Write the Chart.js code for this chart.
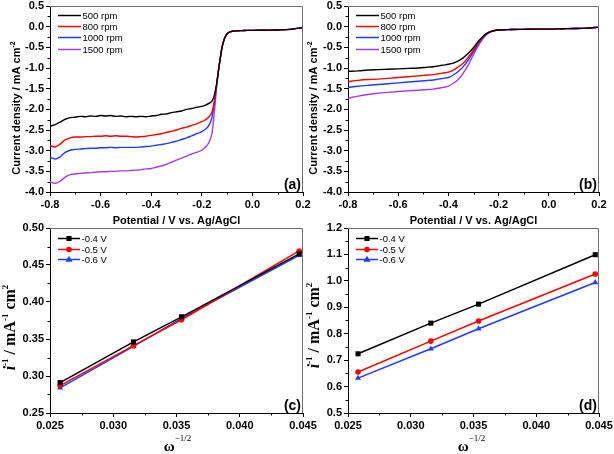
<!DOCTYPE html>
<html>
<head>
<meta charset="utf-8">
<script src="https://cdn.jsdelivr.net/npm/chart.js@4/dist/chart.umd.min.js"></script>
<style>
    html, body { margin: 0; padding: 0; background: #fff; }
    #wrap { position: relative; width: 614px; height: 454px; overflow: hidden; }
    canvas { position: absolute; }
</style>
</head>
<body>
<div id="wrap">
    <canvas id="panelA" width="320" height="228" style="left:0;top:0;width:320px;height:228px"></canvas>
    <canvas id="panelB" width="314" height="228" style="left:300px;top:0;width:314px;height:228px"></canvas>
    <canvas id="panelC" width="320" height="240" style="left:0;top:214px;width:320px;height:240px"></canvas>
    <canvas id="panelD" width="314" height="240" style="left:300px;top:214px;width:314px;height:240px"></canvas>
</div>
<script>
// ---- data ----

// (a) LSV curves
const potentialA = [-0.80, -0.78, -0.76, -0.74, -0.72, -0.70, -0.68, -0.66, -0.64, -0.62,
    -0.60, -0.58, -0.56, -0.54, -0.52, -0.50, -0.48, -0.46, -0.44, -0.42,
    -0.40, -0.38, -0.36, -0.34, -0.32, -0.30, -0.28, -0.26, -0.24, -0.22,
    -0.20, -0.19, -0.18, -0.17, -0.16, -0.155, -0.15, -0.145, -0.14, -0.135,
    -0.13, -0.125, -0.12, -0.11, -0.10, -0.09, -0.08, -0.06, -0.04, -0.02,
    0.00, 0.05, 0.10, 0.15, 0.20];
const j500a = [-2.41, -2.37, -2.31, -2.24, -2.20, -2.19, -2.17, -2.18, -2.16, -2.17,
    -2.15, -2.16, -2.15, -2.17, -2.16, -2.18, -2.17, -2.18, -2.17, -2.18,
    -2.16, -2.15, -2.12, -2.11, -2.08, -2.06, -2.04, -2.00, -1.98, -1.95,
    -1.93, -1.91, -1.88, -1.85, -1.80, -1.74, -1.65, -1.50, -1.34, -1.10,
    -0.88, -0.68, -0.50, -0.28, -0.17, -0.13, -0.11, -0.10, -0.095, -0.09,
    -0.09, -0.085, -0.08, -0.065, -0.02];
const j800a = [-2.88, -2.91, -2.84, -2.74, -2.69, -2.67, -2.67, -2.66, -2.66, -2.65,
    -2.65, -2.64, -2.65, -2.64, -2.65, -2.65, -2.66, -2.67, -2.66, -2.65,
    -2.63, -2.61, -2.59, -2.56, -2.53, -2.50, -2.46, -2.43, -2.39, -2.35,
    -2.30, -2.27, -2.23, -2.17, -2.07, -1.95, -1.78, -1.57, -1.34, -1.10,
    -0.88, -0.68, -0.50, -0.28, -0.17, -0.13, -0.11, -0.10, -0.095, -0.09,
    -0.09, -0.085, -0.08, -0.065, -0.02];
const j1000a = [-3.16, -3.20, -3.15, -3.04, -2.99, -2.97, -2.96, -2.95, -2.94, -2.94,
    -2.93, -2.93, -2.92, -2.93, -2.92, -2.92, -2.92, -2.92, -2.91, -2.90,
    -2.89, -2.87, -2.85, -2.83, -2.80, -2.77, -2.73, -2.69, -2.64, -2.59,
    -2.54, -2.50, -2.45, -2.37, -2.20, -2.03, -1.83, -1.60, -1.34, -1.10,
    -0.88, -0.68, -0.50, -0.28, -0.17, -0.13, -0.11, -0.10, -0.095, -0.09,
    -0.09, -0.085, -0.08, -0.065, -0.02];
const j1500a = [-3.75, -3.79, -3.74, -3.64, -3.58, -3.56, -3.55, -3.54, -3.53, -3.52,
    -3.51, -3.51, -3.50, -3.50, -3.49, -3.49, -3.48, -3.47, -3.46, -3.44,
    -3.43, -3.40, -3.37, -3.33, -3.28, -3.23, -3.18, -3.13, -3.08, -3.04,
    -2.99, -2.94, -2.88, -2.78, -2.58, -2.35, -2.05, -1.70, -1.34, -1.10,
    -0.88, -0.68, -0.50, -0.28, -0.17, -0.13, -0.11, -0.10, -0.095, -0.09,
    -0.09, -0.085, -0.08, -0.065, -0.02];

// (b) LSV curves
const potentialB = [-0.80, -0.76, -0.72, -0.68, -0.64, -0.60, -0.56, -0.52, -0.48, -0.46,
    -0.44, -0.42, -0.40, -0.38, -0.36, -0.34, -0.32, -0.30, -0.28, -0.26,
    -0.24, -0.22, -0.20, -0.15, -0.10, -0.05, 0.00, 0.05, 0.10, 0.15, 0.20];
const j500b = [-1.08, -1.07, -1.05, -1.04, -1.03, -1.02, -1.01, -1.00, -0.98, -0.97,
    -0.95, -0.93, -0.91, -0.88, -0.83, -0.75, -0.64, -0.51, -0.35, -0.22,
    -0.14, -0.10, -0.08, -0.07, -0.065, -0.06, -0.06, -0.05, -0.045, -0.035, -0.01];
const j800b = [-1.33, -1.30, -1.28, -1.27, -1.25, -1.23, -1.21, -1.19, -1.17, -1.16,
    -1.14, -1.12, -1.10, -1.05, -0.97, -0.88, -0.73, -0.57, -0.38, -0.23,
    -0.14, -0.10, -0.08, -0.07, -0.065, -0.06, -0.06, -0.05, -0.045, -0.035, -0.01];
const j1000b = [-1.47, -1.44, -1.42, -1.40, -1.38, -1.36, -1.34, -1.32, -1.30, -1.29,
    -1.27, -1.25, -1.23, -1.17, -1.08, -0.96, -0.80, -0.61, -0.41, -0.25,
    -0.15, -0.10, -0.08, -0.07, -0.065, -0.06, -0.06, -0.05, -0.045, -0.035, -0.01];
const j1500b = [-1.73, -1.68, -1.64, -1.61, -1.59, -1.57, -1.55, -1.54, -1.52, -1.51,
    -1.49, -1.47, -1.44, -1.37, -1.27, -1.12, -0.92, -0.67, -0.45, -0.27,
    -0.15, -0.10, -0.08, -0.07, -0.065, -0.06, -0.06, -0.05, -0.045, -0.035, -0.01];

// (c), (d) Koutecky-Levich
const omegaInv = [0.0258, 0.0316, 0.0354, 0.0447];
const klC04 = [0.291, 0.346, 0.380, 0.465];
const klC05 = [0.287, 0.341, 0.376, 0.469];
const klC06 = [0.284, 0.340, 0.378, 0.463];
const klD04 = [0.724, 0.840, 0.912, 1.099];
const klD05 = [0.655, 0.772, 0.848, 1.026];
const klD06 = [0.632, 0.743, 0.819, 0.994];

const rpmLabels = ['500 rpm', '800 rpm', '1000 rpm', '1500 rpm'];
const voltLabels = ['-0.4 V', '-0.5 V', '-0.6 V'];

const potentialTicks = [-0.8, -0.6, -0.4, -0.2, 0.0, 0.2];
const currentTicks = [0.5, 0.0, -0.5, -1.0, -1.5, -2.0, -2.5, -3.0, -3.5, -4.0];
const omegaTicks = [0.025, 0.030, 0.035, 0.040, 0.045];
const invTicksC = [0.25, 0.30, 0.35, 0.40, 0.45, 0.50];
const invTicksD = [0.5, 0.6, 0.7, 0.8, 0.9, 1.0, 1.1, 1.2];

// ---- styling ----
const SANS = "'Liberation Sans', Arial, sans-serif";
const SERIF = "'Liberation Serif', 'Times New Roman', serif";
const rpmColors = ['#000000', '#ff0000', '#1f3cff', '#a63cf2'];
const voltColors = ['#000000', '#ff0000', '#1f3cff'];
const voltMarkers = ['rect', 'circle', 'triangle'];
const markerSize = { rect: 3.6, circle: 2.8, triangle: 3.4 };

function fmt(v, d) {
    if (Math.abs(v) < 1e-9) v = 0;
    return v.toFixed(d);
}

function drawRich(ctx, parts, x, y, rotate) {
    ctx.save();
    ctx.translate(x, y);
    if (rotate) ctx.rotate(-Math.PI / 2);
    ctx.textAlign = 'left';
    ctx.textBaseline = 'alphabetic';
    ctx.fillStyle = '#000';
    let total = 0;
    const widths = parts.map(p => {
        ctx.font = p.font;
        const w = ctx.measureText(p.text).width;
        total += w;
        return w;
    });
    let cx = -total / 2;
    parts.forEach((p, i) => {
        ctx.font = p.font;
        ctx.fillText(p.text, cx, -(p.rise || 0));
        cx += widths[i];
    });
    ctx.restore();
}

function drawMarker(ctx, style, x, y, r, color) {
    ctx.fillStyle = color;
    ctx.beginPath();
    if (style === 'rect') {
        const s = r * Math.SQRT1_2;
        ctx.rect(x - s, y - s, 2 * s, 2 * s);
    } else if (style === 'circle') {
        ctx.arc(x, y, r, 0, Math.PI * 2);
    } else {
        const s = r * 1.1;
        ctx.moveTo(x, y - s);
        ctx.lineTo(x + s * 0.95, y + s * 0.6);
        ctx.lineTo(x - s * 0.95, y + s * 0.6);
        ctx.closePath();
    }
    ctx.fill();
}

// frame, minor ticks, axis titles, legend and panel tag
const decor = {
    id: 'decor',
    afterDraw(chart, args, o) {
        const { ctx, chartArea: a, scales } = chart;
        ctx.save();

        // top and right border
        ctx.strokeStyle = '#6f6f6f';
        ctx.lineWidth = 1;
        ctx.beginPath();
        ctx.moveTo(a.left, a.top + 0.5);
        ctx.lineTo(a.right - 0.5, a.top + 0.5);
        ctx.lineTo(a.right - 0.5, a.bottom);
        ctx.stroke();

        // minor ticks halfway between majors
        ctx.strokeStyle = '#000';
        ctx.beginPath();
        const xt = scales.x.ticks;
        for (let i = 0; i < xt.length - 1; i++) {
            const px = Math.round(scales.x.getPixelForValue((xt[i].value + xt[i + 1].value) / 2)) + 0.5;
            ctx.moveTo(px, a.bottom);
            ctx.lineTo(px, a.bottom + 2.5);
        }
        const yt = scales.y.ticks;
        for (let i = 0; i < yt.length - 1; i++) {
            const py = Math.round(scales.y.getPixelForValue((yt[i].value + yt[i + 1].value) / 2)) + 0.5;
            ctx.moveTo(a.left, py);
            ctx.lineTo(a.left - 2.5, py);
        }
        ctx.stroke();

        // axis titles
        const mx = (a.left + a.right) / 2;
        const my = (a.top + a.bottom) / 2;
        drawRich(ctx, o.xTitle, mx + o.xTitlePos[0], a.bottom + o.xTitlePos[1], false);
        drawRich(ctx, o.yTitle, a.left + o.yTitlePos[0], my + o.yTitlePos[1], true);

        // legend
        const L = o.legend;
        chart.data.datasets.forEach((ds, i) => {
            const y = Math.round(a.top + L.y + i * L.dy) + 0.5;
            ctx.strokeStyle = ds.borderColor;
            ctx.lineWidth = 1.5;
            ctx.beginPath();
            ctx.moveTo(a.left + L.x0, y);
            ctx.lineTo(a.left + L.x1, y);
            ctx.stroke();
            if (ds.pointRadius > 0) {
                drawMarker(ctx, ds.pointStyle, a.left + (L.x0 + L.x1) / 2, y, ds.pointRadius, ds.borderColor);
            }
            ctx.fillStyle = '#000';
            ctx.font = L.font;
            ctx.textAlign = 'left';
            ctx.textBaseline = 'middle';
            ctx.fillText(ds.label, a.left + L.x1 + 1.5, y + 0.5);
        });

        // panel tag
        ctx.font = 'bold 14px ' + SANS;
        ctx.textAlign = 'right';
        ctx.textBaseline = 'alphabetic';
        ctx.fillStyle = '#000';
        ctx.fillText(o.tag, a.right - 2, a.bottom - 3);
        ctx.restore();
    }
};

function makeAxis(min, max, ticks, digits, size, isX) {
    return {
        type: 'linear',
        min: min,
        max: max,
        afterBuildTicks: s => { s.ticks = ticks.map(v => ({ value: v })); },
        afterFit: s => {
            if (isX) s.height = size; else s.width = size;
            s.paddingLeft = s.paddingRight = s.paddingTop = s.paddingBottom = 0;
        },
        grid: { drawOnChartArea: false, drawTicks: true, tickLength: 4, tickColor: '#000', tickWidth: 1 },
        border: { display: true, color: '#000', width: 1 },
        ticks: {
            autoSkip: false,
            maxRotation: 0,
            padding: 2,
            color: '#000',
            font: { family: SANS, size: 11, weight: 'bold' },
            callback: v => fmt(v, digits)
        }
    };
}

function buildPanel(id, p) {
    return new Chart(document.getElementById(id), {
        type: 'line',
        data: { datasets: p.datasets },
        options: {
            responsive: false,
            animation: false,
            events: [],
            layout: { padding: p.pad },
            plugins: {
                legend: { display: false },
                tooltip: { enabled: false },
                decor: p.decor
            },
            scales: {
                x: makeAxis(p.x[0], p.x[1], p.x[2], p.x[3], p.xSize, true),
                y: makeAxis(p.y[0], p.y[1], p.y[2], p.y[3], p.ySize, false)
            }
        },
        plugins: [decor]
    });
}

function lsvSets(xs, series) {
    return series.map((ys, k) => ({
        label: rpmLabels[k],
        data: xs.map((v, i) => ({ x: v, y: ys[i] })),
        borderColor: rpmColors[k],
        backgroundColor: rpmColors[k],
        borderWidth: 1.4,
        pointRadius: 0,
        cubicInterpolationMode: 'monotone'
    }));
}

function klSets(series) {
    return series.map((ys, k) => ({
        label: voltLabels[k],
        data: omegaInv.map((v, i) => ({ x: v, y: ys[i] })),
        borderColor: voltColors[k],
        backgroundColor: voltColors[k],
        borderWidth: 1.5,
        pointStyle: voltMarkers[k],
        pointRadius: markerSize[voltMarkers[k]],
        pointBorderWidth: 0,
        tension: 0
    }));
}

const potentialTitle = [{ text: 'Potential / V vs. Ag/AgCl', font: 'bold 11px ' + SANS }];
const currentTitle = [
    { text: 'Current density / mA cm', font: 'bold 11px ' + SANS },
    { text: '-2', font: 'bold 7px ' + SANS, rise: 5 }
];
const omegaTitle = [
    { text: 'ω', font: 'bold 15px ' + SERIF },
    { text: '−1/2', font: '9px ' + SERIF, rise: 10 }
];
const invTitle = [
    { text: 'i', font: 'italic bold 16px ' + SERIF },
    { text: '-1', font: 'bold 9px ' + SERIF, rise: 7 },
    { text: ' / mA', font: 'bold 16px ' + SERIF },
    { text: '-1', font: 'bold 9px ' + SERIF, rise: 7 },
    { text: ' cm', font: 'bold 16px ' + SERIF },
    { text: '2', font: 'bold 9px ' + SERIF, rise: 7 }
];

const lsvLegend = { x0: 8, x1: 31, y: 9, dy: 11.2, font: '9.5px ' + SANS };
const klLegend = { x0: 8, x1: 30, y: 10, dy: 10.5, font: '9.5px ' + SANS };

buildPanel('panelA', {
    datasets: lsvSets(potentialA, [j500a, j800a, j1000a, j1500a]),
    pad: { left: 0, top: 6, right: 17, bottom: 0 },
    x: [-0.8, 0.2, potentialTicks, 1], xSize: 36,
    y: [-4.0, 0.5, currentTicks, 1], ySize: 50,
    decor: {
        xTitle: potentialTitle, xTitlePos: [0, 32],
        yTitle: currentTitle, yTitlePos: [-30, 9],
        legend: lsvLegend, tag: '(a)'
    }
});

buildPanel('panelB', {
    datasets: lsvSets(potentialB, [j500b, j800b, j1000b, j1500b]),
    pad: { left: 0, top: 6, right: 15, bottom: 0 },
    x: [-0.8, 0.2, potentialTicks, 1], xSize: 36,
    y: [-4.0, 0.5, currentTicks, 1], ySize: 48,
    decor: {
        xTitle: potentialTitle, xTitlePos: [0, 32],
        yTitle: currentTitle, yTitlePos: [-31, 9],
        legend: lsvLegend, tag: '(b)'
    }
});

buildPanel('panelC', {
    datasets: klSets([klC04, klC05, klC06]),
    pad: { left: 0, top: 14, right: 17, bottom: 0 },
    x: [0.025, 0.045, omegaTicks, 3], xSize: 41,
    y: [0.25, 0.50, invTicksC, 2], ySize: 50,
    decor: {
        xTitle: omegaTitle, xTitlePos: [1, 38],
        yTitle: invTitle, yTitlePos: [-35, 7],
        legend: klLegend, tag: '(c)'
    }
});

buildPanel('panelD', {
    datasets: klSets([klD04, klD05, klD06]),
    pad: { left: 0, top: 14, right: 15, bottom: 0 },
    x: [0.025, 0.045, omegaTicks, 3], xSize: 41,
    y: [0.5, 1.2, invTicksD, 1], ySize: 48,
    decor: {
        xTitle: omegaTitle, xTitlePos: [-2, 38],
        yTitle: invTitle, yTitlePos: [-29, 5],
        legend: klLegend, tag: '(d)'
    }
});
</script>
</body>
</html>
